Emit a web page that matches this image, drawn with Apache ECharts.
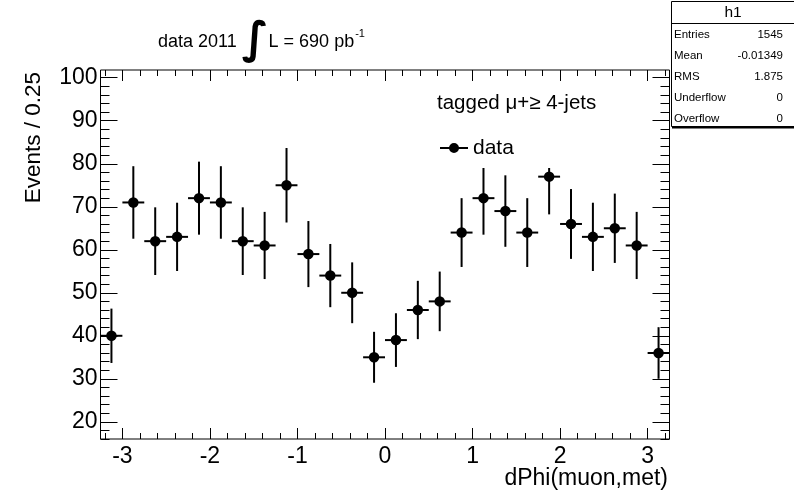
<!DOCTYPE html>
<html><head><meta charset="utf-8">
<script src="https://cdn.jsdelivr.net/npm/echarts@6.0.0/dist/echarts.min.js"></script>
<style>html,body{margin:0;padding:0;background:#fff}#c{width:794px;height:496px}</style>
</head><body><div id="c"></div><script>
// ---- data ----
const binCenters = [-3.125,-2.875,-2.625,-2.375,-2.125,-1.875,-1.625,-1.375,-1.125,-0.875,-0.625,-0.375,-0.125,
                    0.125,0.375,0.625,0.875,1.125,1.375,1.625,1.875,2.125,2.375,2.625,2.875,3.125];
const counts = [40,71,62,63,72,71,62,61,75,59,54,50,35,39,46,48,64,72,69,64,77,66,63,65,61,36];
const errors = [6.32,8.43,7.87,7.94,8.49,8.43,7.87,7.81,8.66,7.68,7.35,7.07,5.92,6.24,6.78,6.93,8.00,8.49,8.31,8.00,8.77,8.12,7.94,8.06,7.81,6.00];
const binWidth = 0.25;
const xTicks = [-3,-2,-1,0,1,2,3];
const yTicks = [20,30,40,50,60,70,80,90,100];
const xTitle = 'dPhi(muon,met)';
const yTitle = 'Events / 0.25';
const statsTitle = 'h1';
const statsLabels = ['Entries','Mean','RMS','Underflow','Overflow'];
const statsValues = ['1545','-0.01349','1.875','0','0'];

// ---- layout ----
const FONT = '"Liberation Sans", Arial, Helvetica, sans-serif';
const X_MIN = -3.25, X_MAX = 3.25, Y_MIN = 16, Y_MAX = 101.8;
const xMinor = []; for (let i = -16; i <= 16; i++) xMinor.push(+(i * 0.2).toFixed(1));
const yMinor = []; for (let v = 16; v <= 100; v += 2) yMinor.push(v);

function xAx(pos, ticks, len, labels, extra) {
  return Object.assign({
    type: 'value', position: pos, min: X_MIN, max: X_MAX, gridIndex: 0,
    axisLine: { show: false, onZero: false },
    splitLine: { show: false },
    axisTick: { show: true, inside: true, length: len, customValues: ticks, lineStyle: { color: '#000', width: 1 } },
    axisLabel: labels ? { show: true, customValues: ticks, margin: 6, color: '#000', fontSize: 23, fontFamily: FONT } : { show: false }
  }, extra || {});
}
function yAx(pos, ticks, len, labels, extra) {
  return Object.assign({
    type: 'value', position: pos, min: Y_MIN, max: Y_MAX, gridIndex: 0,
    axisLine: { show: false, onZero: false },
    splitLine: { show: false },
    axisTick: { show: true, inside: true, length: len, customValues: ticks, lineStyle: { color: '#000', width: 1 } },
    axisLabel: labels ? { show: true, customValues: ticks, margin: 3, color: '#000', fontSize: 23, fontFamily: FONT } : { show: false }
  }, extra || {});
}

const statsGraphics = [
  { type: 'rect', shape: { x: 671.5, y: 1.5, width: 130, height: 125 }, style: { fill: '#fff', stroke: '#000', lineWidth: 1 }, z: 30 },
  { type: 'line', shape: { x1: 672, y1: 127.5, x2: 794, y2: 127.5 }, style: { stroke: '#000', lineWidth: 2 }, z: 30 },
  { type: 'line', shape: { x1: 671.5, y1: 23.5, x2: 794, y2: 23.5 }, style: { stroke: '#000', lineWidth: 1 }, z: 30 },
  { type: 'text', x: 733, y: 12.5, style: { text: statsTitle, align: 'center', verticalAlign: 'middle', font: '15.5px ' + FONT, fill: '#000' }, z: 31 }
];
statsLabels.forEach((lab, i) => {
  const y = 35 + i * 21;
  statsGraphics.push({ type: 'text', x: 674, y: y, style: { text: lab, align: 'left', verticalAlign: 'middle', font: '11.5px ' + FONT, fill: '#000' }, z: 31 });
  statsGraphics.push({ type: 'text', x: 783, y: y, style: { text: statsValues[i], align: 'right', verticalAlign: 'middle', font: '11.5px ' + FONT, fill: '#000' }, z: 31 });
});

const option = {
  animation: false,
  backgroundColor: '#fff',
  textStyle: { fontFamily: FONT },
  title: [
    {
      text: '{a|data 2011 }{i|∫}{a|L = 690 pb}{s|-1}',
      left: 158, top: 21, padding: 0, z: 20,
      textStyle: {
        fontWeight: 'normal',
        rich: {
          a: { fontSize: 18, fontWeight: 'normal', fontFamily: FONT, color: '#000', lineHeight: 42 },
          i: { fontSize: 44, fontWeight: 'bold', fontFamily: '"DejaVu Sans", sans-serif', color: '#000', lineHeight: 42, padding: [0, 0, 0, 0] },
          s: { fontSize: 11, fontWeight: 'normal', fontFamily: FONT, color: '#000', lineHeight: 42, padding: [0, 0, 16, 1] }
        }
      }
    },
    {
      text: 'tagged μ+≥ 4-jets', left: 437, top: 93, padding: 0, z: 20,
      textStyle: { fontSize: 20.5, fontWeight: 'normal', fontFamily: FONT, color: '#000' }
    }
  ],
  legend: {
    data: ['data'], left: 440, top: 137.5, padding: 0, z: 20,
    itemWidth: 28, itemHeight: 10,
    icon: 'path://M0,4L28,4L28,6L0,6Z M9,5A5,5 0 1,1 19,5A5,5 0 1,1 9,5Z',
    itemStyle: { opacity: 1 },
    textStyle: { fontSize: 21, fontFamily: FONT, color: '#000' }
  },
  grid: { left: 100.5, top: 70, width: 569, height: 369, show: true, borderColor: '#000', borderWidth: 1, backgroundColor: 'transparent', containLabel: false, outerBoundsMode: 'none' },
  xAxis: [
    xAx('bottom', xTicks, 11, true),
    xAx('bottom', xMinor, 6, false),
    xAx('top', xTicks, 11, false),
    xAx('top', xMinor, 6, false)
  ],
  yAxis: [
    yAx('left', yTicks, 17, true, {
      name: yTitle, nameLocation: 'end', nameRotate: 90, nameGap: -2,
      nameTextStyle: { fontSize: 22.5, fontFamily: FONT, color: '#000', align: 'right', verticalAlign: 'bottom', padding: [0, 0, 55, 0] }
    }),
    yAx('left', yMinor, 9, false),
    yAx('right', yTicks, 17, false),
    yAx('right', yMinor, 9, false)
  ],
  graphic: [
    { type: 'rect', shape: { x: 428, y: 86, width: 212, height: 82 }, style: { fill: '#fff' }, z: 10 },
    { type: 'text', x: 668, y: 479, style: { text: xTitle, align: 'right', verticalAlign: 'middle', font: '23px ' + FONT, fill: '#000' }, z: 20 }
  ].concat(statsGraphics),
  series: [
    {
      name: 'errors', type: 'custom', xAxisIndex: 0, yAxisIndex: 0, z: 2,
      data: binCenters.map((x, i) => [x, counts[i], errors[i]]),
      encode: { x: 0, y: 1 },
      renderItem: function (params, api) {
        const x = api.value(0), y = api.value(1), e = api.value(2);
        const l = api.coord([x - binWidth / 2, y]);
        const r = api.coord([x + binWidth / 2, y]);
        const t = api.coord([x, y + e]);
        const b = api.coord([x, y - e]);
        return {
          type: 'group',
          children: [
            { type: 'line', shape: { x1: l[0], y1: l[1], x2: r[0], y2: r[1] }, style: { stroke: '#000', lineWidth: 2 } },
            { type: 'line', shape: { x1: t[0], y1: t[1], x2: b[0], y2: b[1] }, style: { stroke: '#000', lineWidth: 2 } }
          ]
        };
      }
    },
    {
      name: 'data', type: 'scatter', xAxisIndex: 0, yAxisIndex: 0, z: 3,
      symbol: 'circle', symbolSize: 10.5,
      itemStyle: { color: '#000', opacity: 1 },
      data: binCenters.map((x, i) => [x, counts[i]])
    }
  ]
};
const chart = echarts.init(document.getElementById('c'), null, { renderer: 'canvas' });
chart.setOption(option);
</script></body></html>
